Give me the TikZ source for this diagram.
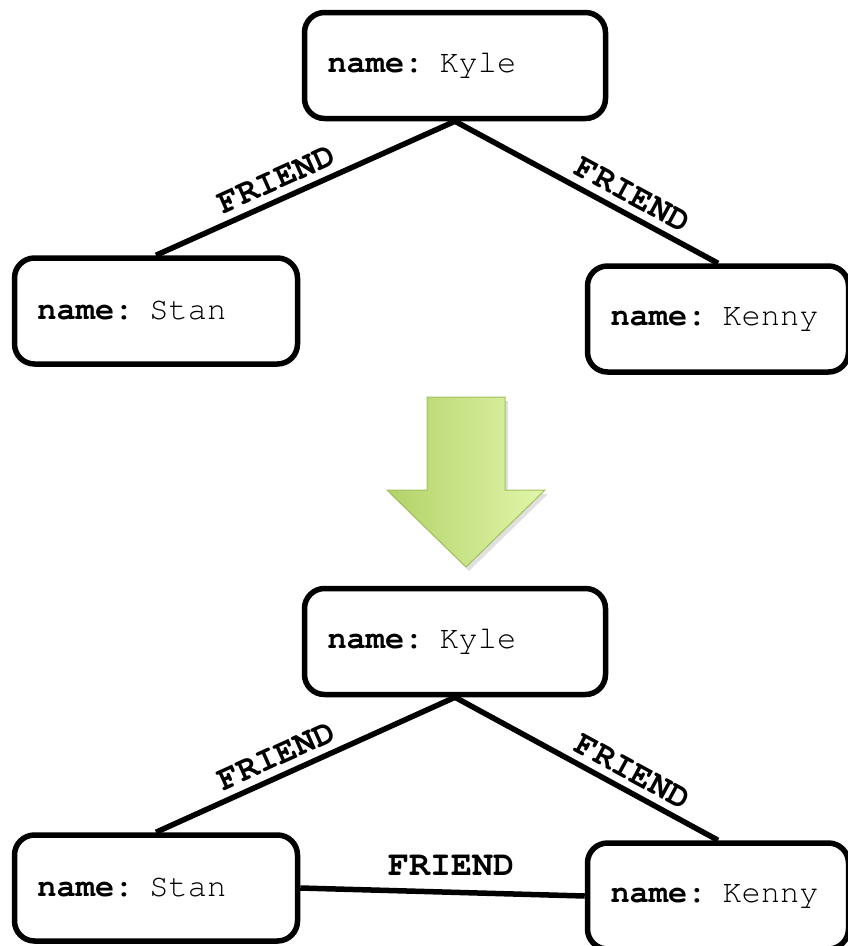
\documentclass[tikz,border=0pt]{standalone}
\usepackage{fontspec}
\setmonofont{texgyrecursor}[Extension=.otf, UprightFont=*-regular, BoldFont=*-bold]
\usetikzlibrary{positioning}
\definecolor{arrowdark}{HTML}{B3D268}
\definecolor{arrowlight}{HTML}{E1F6AA}
\definecolor{arrowedge}{HTML}{A2C15B}
\begin{document}
\begin{tikzpicture}[x=1pt,y=-1pt,
  person/.style={draw, line width=5.5pt, rounded corners=20pt, fill=white,
    minimum height=106pt, inner xsep=23pt, align=left,
    font=\ttfamily\fontsize{32}{38}\selectfont},
  rel/.style={line width=5.5pt},
  rellabel/.style={sloped, anchor=south, inner xsep=0pt, inner ysep=7pt,
    font=\ttfamily\bfseries\fontsize{35}{40}\selectfont}
]
\useasboundingbox (0,0) rectangle (848,946);
\clip (0,0) rectangle (848,946);

% --- before: Kyle knows Stan and Kenny
\node[person, text width=255pt] (kyleA) at (455,65.5) {\textbf{name:} Kyle};
\node[person, text width=237pt] (stanA) at (156,311) {\textbf{name:} Stan};
\node[person, text width=215pt] (kennyA) at (718,319) {\textbf{name:} Kenny};
\draw[rel] (kyleA.south) -- node[rellabel, pos=0.57] {FRIEND} (stanA.north);
\draw[rel] (kyleA.south) -- node[rellabel, pos=0.64] {FRIEND} (kennyA.north);

% --- transition arrow
\fill[black, opacity=0.12] (430,401) -- (508,401) -- (508,494) -- (548,494)
  -- (469,571) -- (390,494) -- (430,494) -- cycle;
\draw[arrowedge, line width=1pt, left color=arrowdark, right color=arrowlight]
  (427,397) -- (505,397) -- (505,490) -- (545,490) -- (466,567)
  -- (387,490) -- (427,490) -- cycle;

% --- after: Stan and Kenny become friends
\node[person, text width=255pt] (kyleB) at (455,641.5) {\textbf{name:} Kyle};
\node[person, text width=237pt] (stanB) at (156,888) {\textbf{name:} Stan};
\node[person, text width=215pt] (kennyB) at (718,896) {\textbf{name:} Kenny};
\draw[rel] (kyleB.south) -- node[rellabel, pos=0.57] {FRIEND} (stanB.north);
\draw[rel] (kyleB.south) -- node[rellabel, pos=0.64] {FRIEND} (kennyB.north);
\draw[rel] (stanB.east) -- node[rellabel, sloped=false, inner ysep=14pt, pos=0.53] {FRIEND} (kennyB.west);
\end{tikzpicture}
\end{document}
